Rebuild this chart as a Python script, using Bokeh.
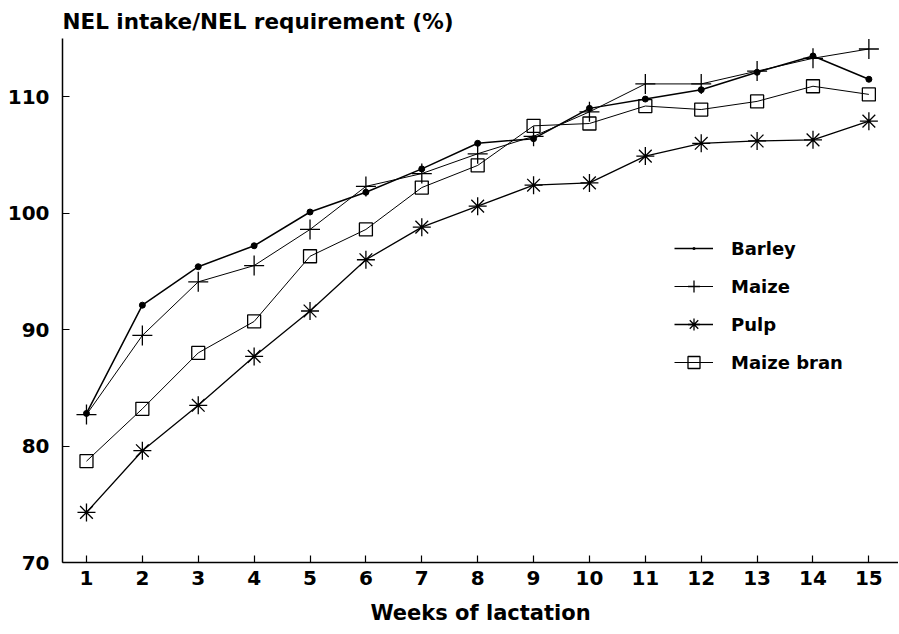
from bokeh.plotting import figure
from bokeh.models import Range1d, FixedTicker, Legend, LegendItem
from bokeh.embed import file_html
from bokeh.resources import INLINE

weeks = list(range(1, 16))
barley = [82.8, 92.1, 95.4, 97.2, 100.1, 101.8, 103.8, 106.0, 106.4, 109.0, 109.8, 110.6, 112.1, 113.5, 111.5]
maize = [82.7, 89.5, 94.1, 95.5, 98.6, 102.3, 103.4, 105.1, 106.6, 108.7, 111.1, 111.1, 112.2, 113.3, 114.1]
pulp = [74.3, 79.6, 83.5, 87.7, 91.6, 96.0, 98.8, 100.6, 102.4, 102.6, 104.9, 106.0, 106.2, 106.3, 107.9]
maize_bran = [78.7, 83.2, 88.0, 90.7, 96.3, 98.6, 102.2, 104.1, 107.5, 107.7, 109.2, 108.9, 109.6, 110.9, 110.2]

y_ticks = [70, 80, 90, 100, 110]
title_text = "NEL intake/NEL requirement (%)"
x_title = "Weeks of lactation"

FONT = "DejaVu Sans"

p = figure(width=898, height=633, output_backend="svg", toolbar_location=None,
           x_range=Range1d(0.571, 15.53), y_range=Range1d(70, 115),
           min_border_left=62, min_border_top=38, min_border_bottom=71, min_border_right=0,
           title=title_text)
p.title.align = "left"
p.title.text_font = FONT
p.title.text_font_style = "bold"
p.title.text_font_size = "21.5px"
p.title.text_color = "black"
p.title.text_line_height = 0.6
p.title.standoff = 10
p.title.offset = 0

p.outline_line_color = None
p.xgrid.visible = False
p.ygrid.visible = False
p.background_fill_color = "white"
p.border_fill_color = "white"

for ax in (p.xaxis[0], p.yaxis[0]):
    ax.axis_line_color = "black"
    ax.axis_line_width = 1.5
    ax.major_tick_in = 7
    ax.major_tick_out = 0
    ax.major_tick_line_color = "black"
    ax.major_tick_line_width = 1.2
    ax.minor_tick_line_color = None
    ax.major_label_text_font = FONT
    ax.major_label_text_font_style = "bold"
    ax.major_label_text_font_size = "20px"
    ax.major_label_text_color = "black"

p.xaxis[0].ticker = FixedTicker(ticks=weeks)
p.yaxis[0].ticker = FixedTicker(ticks=y_ticks)
p.xaxis[0].major_label_standoff = 8
p.yaxis[0].major_label_standoff = 13
p.xaxis[0].axis_label = x_title
p.xaxis[0].axis_label_text_font = FONT
p.xaxis[0].axis_label_text_font_style = "bold"
p.xaxis[0].axis_label_text_font_size = "21px"
p.xaxis[0].axis_label_text_color = "black"
p.xaxis[0].axis_label_standoff = 13

items = []
# Barley
r1 = p.line(weeks, barley, line_color="black", line_width=1.5)
s1 = p.scatter(weeks, barley, marker="circle", size=6, fill_color="black", line_color="black")
l1 = p.scatter(weeks, barley, marker="dot", size=16, line_color="black", fill_color="black",
               line_width=2, visible=False)
items.append(LegendItem(label="Barley", renderers=[r1, l1]))
# Maize
r2 = p.line(weeks, maize, line_color="black", line_width=1.0)
s2 = p.scatter(weeks, maize, marker="cross", size=20, line_color="black", line_width=1.3)
items.append(LegendItem(label="Maize", renderers=[r2, s2]))
# Pulp
r3 = p.line(weeks, pulp, line_color="black", line_width=1.3)
s3 = p.scatter(weeks, pulp, marker="asterisk", size=18, line_color="black", line_width=1.3)
items.append(LegendItem(label="Pulp", renderers=[r3, s3]))
# Maize bran
r4 = p.line(weeks, maize_bran, line_color="black", line_width=1.0)
s4 = p.scatter(weeks, maize_bran, marker="square", size=13, fill_alpha=0, line_color="black", line_width=1.3)
items.append(LegendItem(label="Maize bran", renderers=[r4, s4]))

legend = Legend(items=items, location=(612, 185), padding=0, margin=0,
                border_line_alpha=0, background_fill_alpha=0,
                glyph_width=39, glyph_height=30, label_height=30, spacing=8,
                label_standoff=18, label_text_font=FONT, label_text_font_style="bold",
                label_text_font_size="18px", label_text_color="black")
p.add_layout(legend, "center")

open("out.html", "w").write(file_html(p, INLINE))
